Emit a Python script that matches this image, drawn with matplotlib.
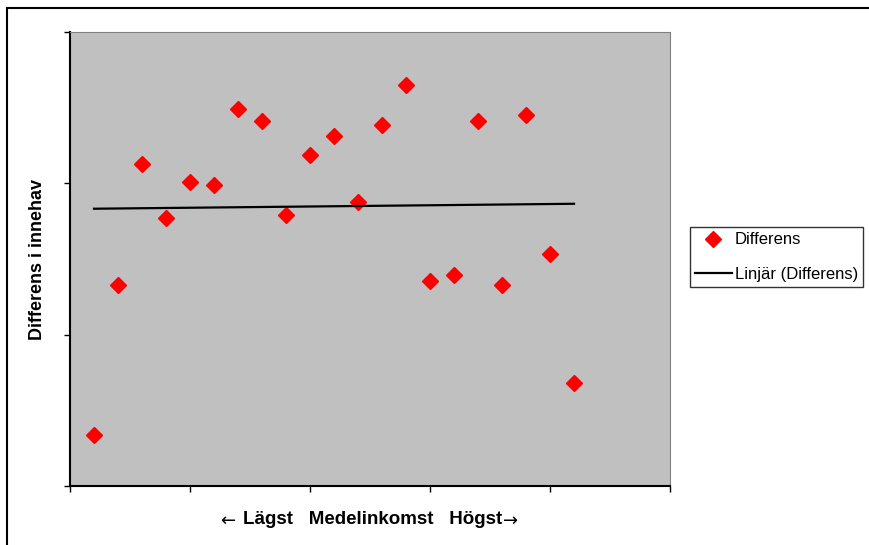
import numpy as np
import matplotlib.pyplot as plt
from matplotlib.patches import Rectangle

plt.rcParams['font.family'] = ['Liberation Sans', 'DejaVu Sans']

# position along the income ranking (1 = lowest) and difference in holdings
rank = np.arange(1, 22)
differens = [-23.3, -3.4, 12.6, 5.4, 10.2, 9.8, 19.8, 18.2, 5.8, 13.7, 16.3,
             7.5, 17.7, 23.0, -2.9, -2.1, 18.2, -3.4, 19.0, 0.7, -16.4]

# linear trend, like Excel's "Linjär" trendline
k, m = np.polyfit(rank, differens, 1)
trend = k * rank + m

fig = plt.figure(figsize=(8.7, 5.45), dpi=100)
ax = fig.add_axes([70 / 870, 59 / 545, 600 / 870, 454 / 545])
ax.set_facecolor('#c0c0c0')

ax.plot(rank, differens, linestyle='none', marker='D', markersize=8,
        color='#ff0000', label='Differens')
ax.plot(rank, trend, color='black', linewidth=1.6, label='Linjär (Differens)')

ax.set_xlim(0, 25)
ax.set_ylim(-30, 30)
ax.set_xticks([0, 5, 10, 15, 20, 25])
ax.set_yticks([-30, -10, 10, 30])
ax.set_xticklabels([])
ax.set_yticklabels([])
ax.tick_params(length=4, width=1, color='black')

for side in ['top', 'right']:
    ax.spines[side].set_color('#808080')
ax.spines['left'].set_linewidth(1.5)
ax.spines['bottom'].set_linewidth(1.5)

fig.text(38 / 870, 1 - 259 / 545, 'Differens i innehav', rotation=90,
         ha='center', va='center', fontsize=13, fontweight='bold')

# x label: bold words, thin arrows on each side
xl = fig.text(373 / 870, 1 - 520 / 545, 'Lägst   Medelinkomst   Högst',
              ha='center', va='center', fontsize=13.5, fontweight='bold')
fig.canvas.draw()
bb = xl.get_window_extent().transformed(fig.transFigure.inverted())
fig.text(bb.x0 - 8 / 870, 1 - 521 / 545, '←', ha='right', va='center',
         fontsize=13, family='DejaVu Sans')
fig.text(bb.x1, 1 - 521 / 545, '→', ha='left', va='center',
         fontsize=13, family='DejaVu Sans')

leg = fig.legend(loc='center left', bbox_to_anchor=(690 / 870, 1 - 257 / 545),
                 borderaxespad=0, frameon=True, fancybox=False,
                 edgecolor='black', fontsize=12, borderpad=0.3,
                 handlelength=2.2, handletextpad=0.2, labelspacing=1.15)
leg.get_frame().set_linewidth(1)

# outer chart border (cropped on right and bottom)
fig.patches.append(Rectangle((7 / 870, -0.1), 1.0, 1 - 8.5 / 545 + 0.1,
                             transform=fig.transFigure, fill=False,
                             edgecolor='black', linewidth=1.5))

fig.savefig('out.png', dpi=100)
